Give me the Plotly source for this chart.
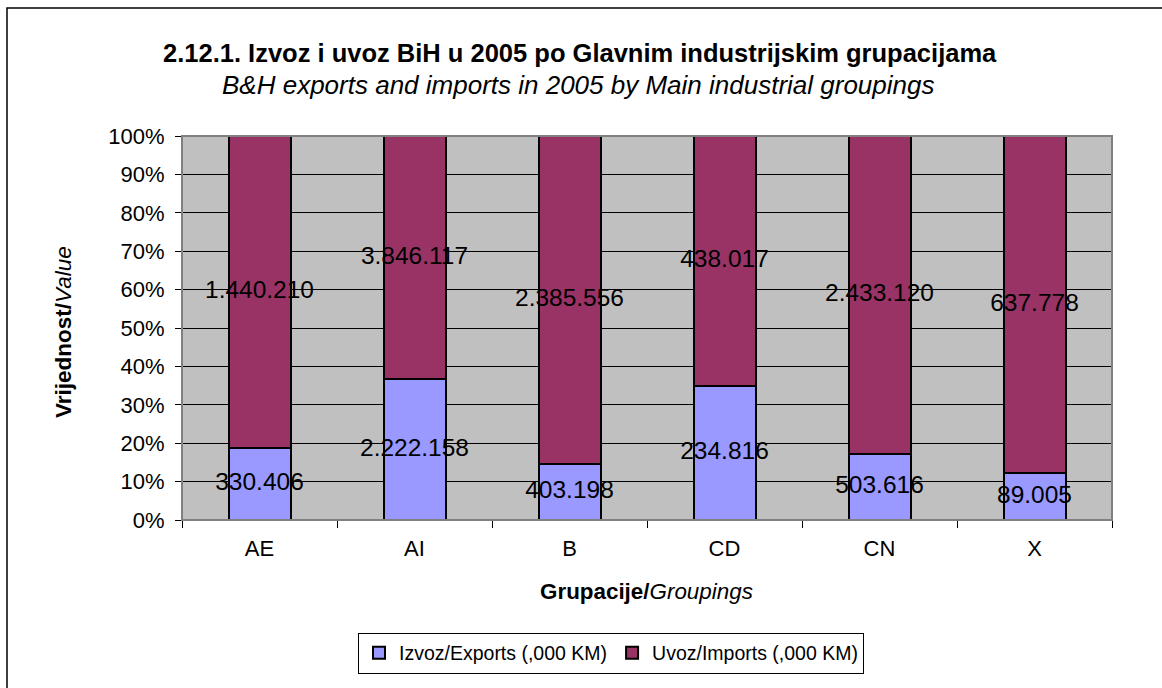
import plotly.graph_objects as go

categories = ["AE", "AI", "B", "CD", "CN", "X"]
exports = [330406, 2222158, 403198, 234816, 503616, 89005]
imports = [1440210, 3846117, 2385556, 438017, 2433120, 637778]
y_ticks = [0, 10, 20, 30, 40, 50, 60, 70, 80, 90, 100]

title_main = "2.12.1. Izvoz i uvoz BiH u 2005 po Glavnim industrijskim grupacijama"
title_sub = "B&H exports and imports in 2005 by Main industrial groupings"
name_exp = "Izvoz/Exports (,000 KM)"
name_imp = "Uvoz/Imports (,000 KM)"

FONT = "Liberation Sans, Arial, sans-serif"
W, H = 1162, 688
L, R, T, B = 182, 1162 - 1112, 136, 688 - 520
pw, ph = W - L - R, H - T - B


def fmt(v):
    return f"{v:,}".replace(",", ".")


tot = [e + i for e, i in zip(exports, imports)]
exp_pct = [100 * e / t for e, t in zip(exports, tot)]
exp_mid = [p / 2 for p in exp_pct]
imp_mid = [(p + 100) / 2 for p in exp_pct]

fig = go.Figure()
fig.add_trace(go.Bar(x=categories, y=exports, name=name_exp,
                     marker=dict(color="#9999FF", line=dict(color="black", width=2))))
fig.add_trace(go.Bar(x=categories, y=imports, name=name_imp,
                     marker=dict(color="#993366", line=dict(color="black", width=2))))
fig.add_trace(go.Scatter(x=categories, y=exp_mid, mode="text", text=[fmt(v) for v in exports],
                         textfont=dict(family=FONT, size=24.5, color="black"),
                         showlegend=False, hoverinfo="skip", cliponaxis=False))
fig.add_trace(go.Scatter(x=categories, y=imp_mid, mode="text", text=[fmt(v) for v in imports],
                         textfont=dict(family=FONT, size=24.5, color="black"),
                         showlegend=False, hoverinfo="skip", cliponaxis=False))


def px_x(x):
    return (x - L) / pw


def px_y(y):
    return (H - B - y) / ph


fig.update_layout(
    width=W, height=H,
    margin=dict(l=L, r=R, t=T, b=B, autoexpand=False),
    barmode="stack", barnorm="percent", bargap=0.6,
    plot_bgcolor="#C0C0C0", paper_bgcolor="white",
    font=dict(family=FONT, color="black"),
    showlegend=True,
    legend=dict(orientation="h", x=px_x(611), xanchor="center", y=px_y(653), yanchor="middle",
                bordercolor="black", borderwidth=1, font=dict(size=19.5, family=FONT),
                itemwidth=30, traceorder="normal", itemclick=False),
    xaxis=dict(type="category", tickson="boundaries", ticks="outside", ticklen=7, tickcolor="black",
               showline=True, linecolor="black", linewidth=1, showgrid=False,
               ticklabelstandoff=9, tickfont=dict(size=22, family=FONT)),
    yaxis=dict(range=[0, 100], tickmode="array", tickvals=y_ticks,
               ticktext=[f"{v}%" for v in y_ticks], ticks="outside", ticklen=6,
               tickcolor="black", showline=True, linecolor="black", linewidth=1,
               showgrid=True, gridcolor="black", gridwidth=1, zeroline=False,
               ticklabelstandoff=6, tickfont=dict(size=22, family=FONT)),
    annotations=[
        dict(text="<b>" + title_main + "</b>", xref="paper", yref="paper", x=px_x(580), y=px_y(53),
             showarrow=False, font=dict(size=25.5, family=FONT), xanchor="center", yanchor="middle"),
        dict(text="<i>" + title_sub + "</i>", xref="paper", yref="paper", x=px_x(578), y=px_y(85),
             showarrow=False, font=dict(size=26, family=FONT), xanchor="center", yanchor="middle"),
        dict(text="<b>Grupacije/</b><i>Groupings</i>", xref="paper", yref="paper", x=px_x(646), y=px_y(591),
             showarrow=False, font=dict(size=22.4, family=FONT), xanchor="center", yanchor="middle"),
        dict(text="<b>Vrijednost/</b><i>Value</i>", xref="paper", yref="paper", x=px_x(63), y=px_y(332),
             showarrow=False, font=dict(size=22.5, family=FONT), textangle=-90,
             xanchor="center", yanchor="middle"),
    ],
    shapes=[
        dict(type="rect", xref="paper", yref="paper", x0=0, y0=0, x1=1, y1=1,
             line=dict(color="#808080", width=2), layer="above"),
        dict(type="rect", xref="paper", yref="paper", x0=px_x(7), y0=px_y(720), x1=px_x(1200), y1=px_y(8),
             line=dict(color="black", width=1.5)),
    ],
)

fig.write_html("out.html", config={"displayModeBar": False},
               post_script="document.body.style.margin='0';")
